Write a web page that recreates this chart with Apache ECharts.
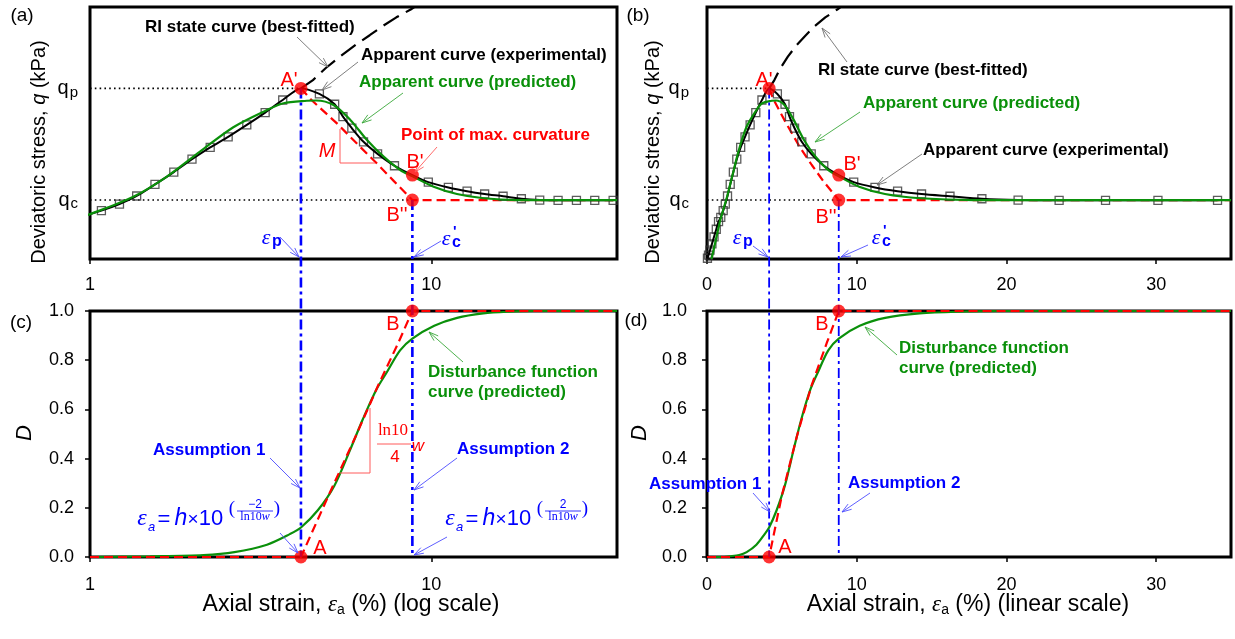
<!DOCTYPE html>
<html>
<head>
<meta charset="utf-8">
<script src="https://cdn.jsdelivr.net/npm/echarts@6/dist/echarts.min.js"></script>
<style>
html,body{margin:0;padding:0;background:#fff;}
#chart{width:1235px;height:639px;}
</style>
</head>
<body>
<div id="chart"></div>
<script>
// ---- Triaxial test: apparent curve, RI state curve and disturbance function ----

// experimental points (axial strain %, deviatoric stress in plot units)
const expStrain = [0.03, 0.1, 0.2, 0.33, 0.47, 0.62, 0.77, 0.92, 1.08, 1.22, 1.37, 1.55, 1.76, 1.99, 2.25, 2.54, 2.88, 3.26, 3.67,
                   4.70, 5.21, 5.51, 5.85, 6.33, 6.96, 7.80, 9.80, 11.22, 12.73, 14.33, 16.23, 18.36, 20.78, 23.52, 26.62, 30.12, 34.10];
const expStress = [0.3, 1.5, 3.5, 6.0, 8.8, 11.8, 14.8, 16.5, 19.2, 21.8, 25.0, 29.6, 34.5, 39.6, 44.3, 48.5, 53.2, 58.1, 63.1,
                   65.5, 61.4, 56.5, 51.9, 46.5, 41.7, 37.0, 30.5, 28.4, 26.9, 25.8, 24.9, 23.9, 23.4, 23.3, 23.3, 23.3, 23.3];

// characteristic points
const strainPeak = 4.15;   // epsilon_p
const strainCrit = 8.8;    // epsilon'_c
const qPeak = 67.7;        // q_p
const qCrit = 23.4;        // q_c
const qMaxCurv = 33.3;     // stress at B'

// apparent curve (predicted)
const predStrain = [0.3, 0.55, 0.9, 1.0, 1.34, 1.68, 2.10, 2.63, 3.30, 3.69, 4.32, 4.6, 5.17, 5.79, 6.48, 7.25, 8.11, 8.78,
                    10.16, 11.89, 14.24, 17.84, 22, 35];
const predStress = [0, 6.5, 15.8, 17.8, 24.7, 32.7, 42.6, 52.3, 59.1, 61.8, 62.8, 62.9, 61.1, 55.2, 47.2, 40.6, 35.3, 32.9,
                    28.7, 25.8, 24.1, 23.4, 23.4, 23.4];

// RI state curve (best-fitted)
const riStrain = [4.15, 4.5, 4.9, 5.4, 6.0, 6.6, 7.2, 7.9, 8.7, 9.2];
const riStress = [67.7, 71.0, 75.7, 80.3, 85.0, 88.8, 92.4, 95.9, 99.0, 101.2];

// softening construction line A' -> B'' -> residual
const softStrain = [4.15, 4.44, 5.33, 6.22, 7.0, 7.77, 8.8, 35];
const softStress = [67.7, 63.3, 53.4, 44.2, 37.3, 30.9, 23.4, 23.4];

// disturbance function curve (predicted)
const dStrain = [0, 1, 1.5, 2.15, 2.65, 3.3, 3.85, 4.15, 4.65, 5.2, 5.8, 6.3, 6.9, 7.4, 8.1, 8.8, 10.2, 11.9, 14.2, 16.7, 20, 35];
const dValue  = [0, 0, 0.003, 0.008, 0.02, 0.05, 0.093, 0.12, 0.19, 0.29, 0.44, 0.56, 0.68, 0.75, 0.84, 0.888, 0.94, 0.972, 0.99, 0.997, 1, 1];

// disturbance construction line A -> B
const dLineStrain = [0, 4.15, 5.0, 6.0, 7.0, 8.0, 8.8, 35];
const dLineValue  = [0, 0, 0.25, 0.49, 0.70, 0.87, 1, 1];

// axis ticks
const logTicks = [1, 10];
const linTicks = [0, 10, 20, 30];

const FONT = 'Arial, "Liberation Sans", Helvetica, sans-serif';
const SERIF = '"Liberation Serif", "DejaVu Serif", serif';
const RED = '#ff0000', GREEN = '#0a900a', BLUE = '#0000ff', BLACK = '#000000';

const zip = (xs, ys) => xs.map((x, i) => [x, ys[i]]);
const positive = pts => pts.filter(p => p[0] > 0);
const fromOne = pts => pts.filter(p => p[0] >= 1);
const clampLog = pts => pts.map(p => [Math.max(p[0], 1), p[1]]);

const expPts = zip(expStrain, expStress);
const expLine = expPts.concat([[strainPeak, qPeak], [strainCrit, qMaxCurv]]).sort((a, b) => a[0] - b[0]);
const predPts = zip(predStrain, predStress);
const riPts = zip(riStrain, riStress);
const softPts = zip(softStrain, softStress);
const dPts = zip(dStrain, dValue);
const dLinePts = zip(dLineStrain, dLineValue);

const chart = echarts.init(document.getElementById('chart'), null, {renderer: 'canvas'});

function gridOf(left, top, width, height) {
  return {left, top, width, height, show: true, borderColor: BLACK, borderWidth: 3,
          backgroundColor: 'transparent', containLabel: false, outerBoundsMode: 'none'};
}

function xAxisOf(gridIndex, isLog, margin) {
  const ticks = isLog ? logTicks : linTicks;
  const ax = {
    gridIndex, type: isLog ? 'log' : 'value', min: isLog ? 1 : 0, max: 35,
    axisLine: {show: false},
    splitLine: {show: false},
    axisTick: {show: true, customValues: ticks, length: 5, lineStyle: {color: BLACK, width: 1.5}},
    axisLabel: {customValues: ticks, color: BLACK, fontSize: 18, fontFamily: FONT, margin}
  };
  if (isLog) ax.logBase = 10;
  return ax;
}

function stressAxisOf(gridIndex, margin) {
  return {
    gridIndex, type: 'value', min: 0, max: 100,
    axisLine: {show: false}, splitLine: {show: false}, axisTick: {show: false},
    axisLabel: {
      customValues: [qCrit, qPeak], margin, color: BLACK, fontFamily: FONT,
      formatter: v => Math.abs(v - qPeak) < 1e-6 ? '{q|q}{s|p}' : '{q|q}{s|c}',
      rich: {q: {fontSize: 20, fontFamily: FONT, color: BLACK},
             s: {fontSize: 15, fontFamily: FONT, color: BLACK, padding: [8, 0, 0, 1]}}
    }
  };
}

function dAxisOf(gridIndex, margin) {
  return {
    gridIndex, type: 'value', min: 0, max: 1, interval: 0.2,
    axisLine: {show: false}, splitLine: {show: false},
    axisTick: {show: true, length: 5, lineStyle: {color: BLACK, width: 1.5}},
    axisLabel: {color: BLACK, fontSize: 18, fontFamily: FONT, margin, formatter: v => v.toFixed(1)}
  };
}

const line = (xi, data, color, width, type, z, smooth) => ({
  type: 'line', xAxisIndex: xi, yAxisIndex: xi, data, showSymbol: false, symbol: 'none',
  lineStyle: {color, width, type: type || 'solid'}, z: z || 2, smooth: smooth || false,
  animation: false, silent: true
});

const dots = (xi, data) => ({
  type: 'scatter', xAxisIndex: xi, yAxisIndex: xi, data, symbol: 'circle', symbolSize: 13,
  itemStyle: {color: RED}, z: 10, animation: false, silent: true, clip: false
});

const squares = (xi, data) => ({
  type: 'scatter', xAxisIndex: xi, yAxisIndex: xi, data, symbol: 'rect', symbolSize: 8,
  itemStyle: {color: 'rgba(255,255,255,0)', borderColor: '#333', borderWidth: 1.3},
  z: 4, animation: false, silent: true
});

function stressSeries(xi, isLog) {
  const x0 = isLog ? 1 : 0;
  const f = isLog ? positive : (p => p);
  return [
    line(xi, [[x0, qPeak], [strainPeak, qPeak]], BLACK, 1.6, [1.6, 3.2], 1),
    line(xi, [[x0, qCrit], [strainCrit, qCrit]], BLACK, 1.6, [1.6, 3.2], 1),
    line(xi, softPts, RED, 2.2, [9, 5], 2),
    line(xi, riPts, BLACK, 2.2, [18, 8], 3),
    squares(xi, isLog ? fromOne(expPts) : expPts),
    line(xi, f(expLine), BLACK, 2, 'solid', 5, 0.25),
    line(xi, f(predPts), GREEN, 2.2, 'solid', 6, 0.3),
    dots(xi, [[strainPeak, qPeak], [strainCrit, qMaxCurv], [strainCrit, qCrit]])
  ];
}

function dSeries(xi, isLog) {
  const f = isLog ? clampLog : (p => p);
  return [
    line(xi, f(dPts), GREEN, 2.2, 'solid', 3, 0.3),
    line(xi, f(dLinePts), RED, 2.2, [9, 5], 4),
    dots(xi, [[strainPeak, 0], [strainCrit, 1]])
  ];
}

chart.setOption({
  animation: false,
  backgroundColor: '#ffffff',
  grid: [gridOf(90, 7, 527, 252), gridOf(707, 7, 524, 252), gridOf(90, 311, 527, 246), gridOf(707, 311, 524, 246)],
  xAxis: [xAxisOf(0, true, 17), xAxisOf(1, false, 17), xAxisOf(2, true, 19), xAxisOf(3, false, 19)],
  yAxis: [stressAxisOf(0, 12), stressAxisOf(1, 18), dAxisOf(2, 16), dAxisOf(3, 20)],
  series: [].concat(stressSeries(0, true), stressSeries(1, false), dSeries(2, true), dSeries(3, false))
});

// ---- annotations ----
function T(x, y, text, o) {
  return {type: 'text', x, y, z: 50, silent: true,
          style: Object.assign({text, fill: BLACK, fontSize: 17, fontFamily: FONT, align: 'left', verticalAlign: 'middle'}, o || {})};
}
function L(x1, y1, x2, y2, color, w, dash) {
  return {type: 'line', z: 40, silent: true, shape: {x1, y1, x2, y2},
          style: {stroke: color, lineWidth: w || 1, lineDash: dash || null}};
}
function A(x1, y1, x2, y2, color) {
  const ang = Math.atan2(y2 - y1, x2 - x1), len = 10, sp = 0.32;
  const p1 = [x2 - len * Math.cos(ang - sp), y2 - len * Math.sin(ang - sp)];
  const p2 = [x2 - len * Math.cos(ang + sp), y2 - len * Math.sin(ang + sp)];
  return [L(x1, y1, x2, y2, color, 0.9),
          {type: 'polyline', z: 40, silent: true, shape: {points: [p1, [x2, y2], p2]},
           style: {stroke: color, lineWidth: 0.9, fill: null}}];
}
const B = {fontWeight: 'bold'};
const bold = (x, y, text, color) => T(x, y, text, Object.assign({fill: color}, B));
const ptLabel = (x, y, text) => T(x, y, text, {fill: RED, fontSize: 20, align: 'center'});

// epsilon with a bold subscript (and optional prime)
function epsSub(x, y, sub, prime) {
  const out = [T(x, y, 'ε', {fill: BLUE, fontSize: 22, fontFamily: SERIF, fontStyle: 'italic', align: 'center'}),
               T(x + 6, y + 4, sub, {fill: BLUE, fontSize: 16, fontWeight: 'bold', align: 'left'})];
  if (prime) out.push(T(x + 7, y - 7, "'", {fill: BLUE, fontSize: 15, fontWeight: 'bold', align: 'left'}));
  return out;
}

// ε_a = h × 10^( num / ln10w )
function formula(bx, y, num) {
  const c = {fill: BLUE, fontFamily: FONT};
  return [
    T(bx + 5, y - 1, 'ε', Object.assign({}, c, {fontSize: 24, fontFamily: SERIF, fontStyle: 'italic', align: 'center'})),
    T(bx + 11, y + 7, 'a', Object.assign({}, c, {fontSize: 13, fontStyle: 'italic'})),
    T(bx + 27, y, '=', Object.assign({}, c, {fontSize: 22, align: 'center'})),
    T(bx + 44, y - 1, 'h', Object.assign({}, c, {fontSize: 23, fontStyle: 'italic', align: 'center'})),
    T(bx + 56, y, '×', Object.assign({}, c, {fontSize: 19, align: 'center'})),
    T(bx + 74, y - 1, '10', Object.assign({}, c, {fontSize: 22, align: 'center'})),
    T(bx + 95, y - 11, '(', Object.assign({}, c, {fontSize: 19, fontFamily: SERIF, align: 'center'})),
    T(bx + 118, y - 15, num, Object.assign({}, c, {fontSize: 12, align: 'center'})),
    L(bx + 100, y - 9, bx + 136, y - 9, BLUE, 0.8),
    T(bx + 118, y - 3, '{r|ln10}{i|w}', Object.assign({}, c, {fontSize: 12, align: 'center',
      rich: {r: {fontSize: 12, fontFamily: SERIF, color: BLUE}, i: {fontSize: 12, fontStyle: 'italic', fontFamily: SERIF, color: BLUE}}})),
    T(bx + 140, y - 11, ')', Object.assign({}, c, {fontSize: 19, fontFamily: SERIF, align: 'center'}))
  ];
}

const grey = '#707070', lgreen = '#3aa83a', lred = '#ff5a5a', lblue = '#4d4dff';

function axisTitle(x, y, scaleText) {
  return T(x, y, 'Axial strain, {e|ε}{s|a} (%) (' + scaleText + ')', {
    fontSize: 23, align: 'center',
    rich: {e: {fontSize: 23, fontStyle: 'italic', fontFamily: SERIF, color: BLACK},
           s: {fontSize: 14, fontFamily: FONT, color: BLACK, padding: [10, 0, 0, 0]}}
  });
}
function yTitle(x, y) {
  const t = T(x, y, 'Deviatoric stress, {i|q} (kPa)', {fontSize: 20, align: 'center',
    rich: {i: {fontSize: 20, fontStyle: 'italic', fontFamily: FONT, color: BLACK}}});
  t.rotation = Math.PI / 2;
  return t;
}
function dTitle(x, y) {
  const t = T(x, y, 'D', {fontSize: 22, fontStyle: 'italic', align: 'center'});
  t.rotation = Math.PI / 2;
  return t;
}

function buildGraphics() {
  const px = (gi, p) => chart.convertToPixel({gridIndex: gi}, p);
  const els = [];

  // dash-dot guides from the upper panels down to the disturbance panels
  const guide = (gTop, gBot, x, yTop, w) => {
    const a = px(gTop, [x, yTop]);
    const b = px(gBot, [x, 0]);
    els.push({type: 'line', z: 8, silent: true, shape: {x1: a[0], y1: a[1], x2: b[0], y2: b[1]},
              style: {stroke: BLUE, lineWidth: w, lineDash: [10, 4, 3, 4]}});
  };
  guide(0, 2, strainPeak, qPeak, 2.6);
  guide(0, 2, strainCrit, qCrit, 2.6);
  guide(1, 3, strainPeak, qPeak, 1.8);
  guide(1, 3, strainCrit, qCrit, 1.8);

  // panel tags
  els.push(T(22, 16, '(a)', {fontSize: 19, align: 'center'}), T(638, 16, '(b)', {fontSize: 19, align: 'center'}),
           T(21, 323, '(c)', {fontSize: 19, align: 'center'}), T(636, 321, '(d)', {fontSize: 19, align: 'center'}));

  // axis titles
  els.push(yTitle(39, 152), yTitle(653, 152), dTitle(25, 433), dTitle(640, 433),
           axisTitle(351, 605, 'log scale'), axisTitle(968, 605, 'linear scale'));

  // ---- panel (a) ----
  els.push(bold(145, 27, 'RI state curve (best-fitted)', BLACK), ...A(297, 37, 328, 67, grey));
  els.push(bold(361, 55, 'Apparent curve (experimental)', BLACK), ...A(358, 62, 322, 90, grey));
  els.push(bold(359, 82, 'Apparent curve (predicted)', GREEN), ...A(403, 93, 362, 123, lgreen));
  els.push(bold(401, 135, 'Point of max. curvature', RED), ...A(437, 147, 415, 172, lred));
  els.push(L(340, 129, 340, 163, lred, 1), L(340, 163, 375, 163, lred, 1));
  els.push(T(327, 151, 'M', {fill: RED, fontSize: 20, fontStyle: 'italic', align: 'center'}));
  els.push(ptLabel(289, 80, "A'"), ptLabel(415, 162, "B'"), ptLabel(397, 215, "B''"));
  els.push(...epsSub(266, 238, 'p', false), ...A(280, 237, 299, 257, lblue));
  els.push(...epsSub(446, 239, 'c', true), ...A(441, 241, 414, 257, lblue));

  // ---- panel (b) ----
  els.push(bold(818, 70, 'RI state curve (best-fitted)', BLACK), ...A(847, 62, 822, 28, grey));
  els.push(bold(863, 103, 'Apparent curve (predicted)', GREEN), ...A(860, 112, 815, 142, lgreen));
  els.push(bold(923, 150, 'Apparent curve (experimental)', BLACK), ...A(922, 154, 877, 185, grey));
  els.push(ptLabel(764, 80, "A'"), ptLabel(852, 164, "B'"), ptLabel(826, 217, "B''"));
  els.push(...epsSub(737, 238, 'p', false), ...A(753, 246, 768, 257, lblue));
  els.push(...epsSub(876, 238, 'c', true), ...A(868, 245, 841, 257, lblue));

  // ---- panel (c) ----
  els.push(bold(153, 450, 'Assumption 1', BLUE), ...A(270, 458, 300, 488, lblue));
  els.push(...formula(137, 520, '−2'), ...A(280, 533, 298, 553, lblue));
  els.push(bold(457, 449, 'Assumption 2', BLUE), ...A(457, 458, 414, 490, lblue));
  els.push(...formula(445, 520, '2'), ...A(447, 537, 414, 555, lblue));
  els.push(bold(428, 372, 'Disturbance function', GREEN), bold(428, 392, 'curve (predicted)', GREEN),
           ...A(463, 362, 429, 332, lgreen));
  els.push(L(370, 408, 370, 473, lred, 1), L(340, 473, 370, 473, lred, 1));
  els.push(T(393, 431, 'ln10', {fill: RED, fontSize: 17, fontFamily: SERIF, align: 'center'}),
           L(377, 444, 411, 444, lred, 1),
           T(395, 457, '4', {fill: RED, fontSize: 17, align: 'center'}),
           T(418, 446, 'w', {fill: RED, fontSize: 17, fontStyle: 'italic', align: 'center'}));
  els.push(ptLabel(320, 548, 'A'), ptLabel(393, 324, 'B'));

  // ---- panel (d) ----
  els.push(bold(649, 484, 'Assumption 1', BLUE), ...A(753, 493, 770, 512, lblue));
  els.push(bold(848, 483, 'Assumption 2', BLUE), ...A(870, 493, 842, 512, lblue));
  els.push(bold(899, 348, 'Disturbance function', GREEN), bold(899, 368, 'curve (predicted)', GREEN),
           ...A(897, 355, 865, 327, lgreen));
  els.push(ptLabel(785, 547, 'A'), ptLabel(822, 324, 'B'));

  chart.setOption({graphic: {elements: els}});
}
buildGraphics();
</script>
</body>
</html>
